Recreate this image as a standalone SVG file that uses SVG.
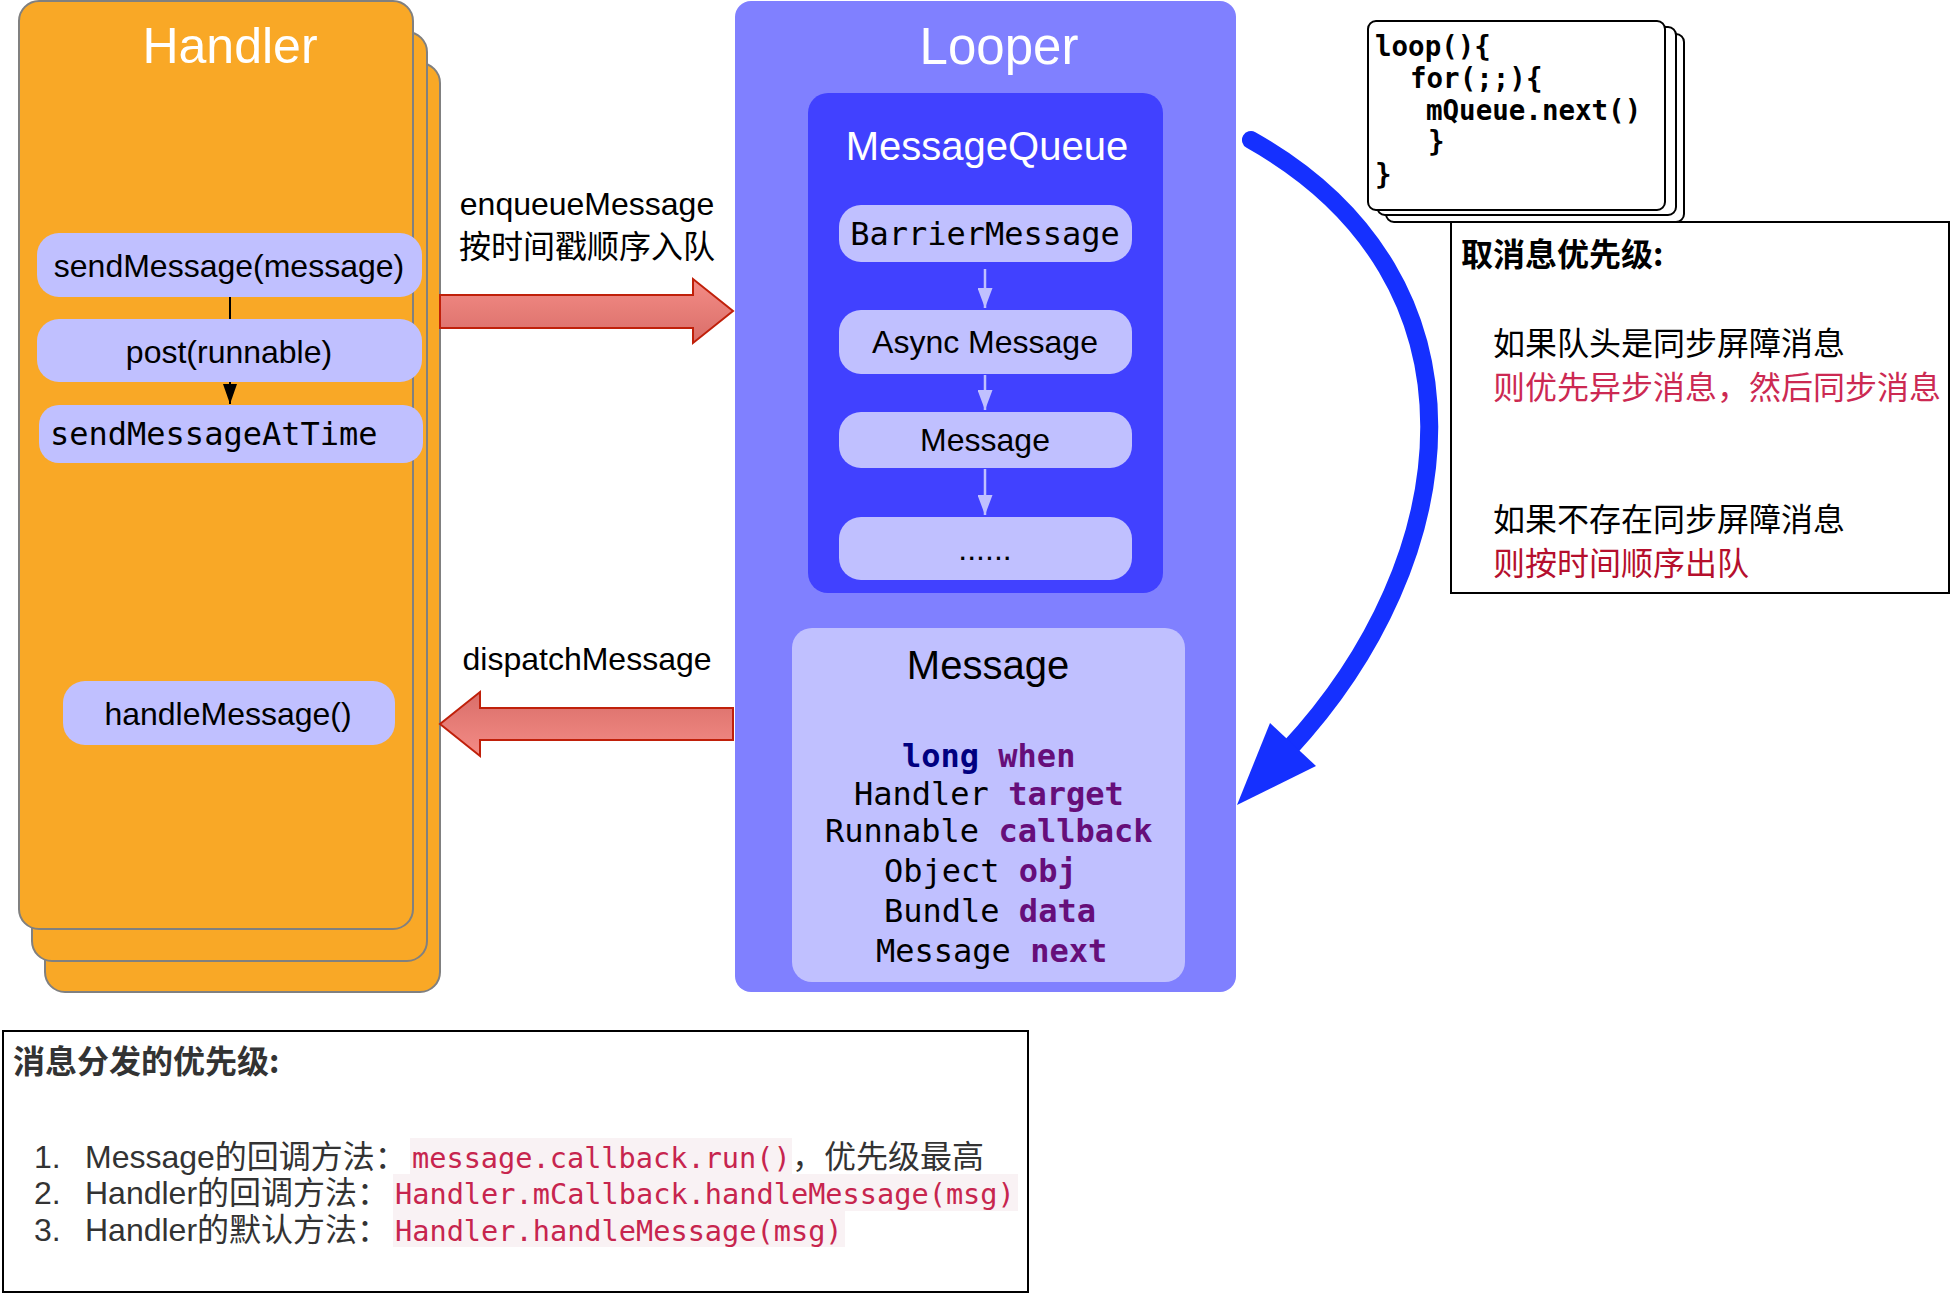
<svg xmlns="http://www.w3.org/2000/svg" width="1952" height="1294" viewBox="0 0 1952 1294">
<style>
.sans{font-family:"Liberation Sans","Noto Sans CJK SC",sans-serif;}
.cjk{font-family:"Noto Sans CJK SC","Liberation Sans",sans-serif;}
.mono{font-family:"DejaVu Sans Mono","Liberation Mono",monospace;}
.card{fill:#F9A826;stroke:#808080;stroke-width:2;}
.pill{fill:#C0C0FF;}
.lbl{font-size:32px;fill:#000;}
.kw{font-weight:bold;fill:#000080;}
.fld{font-weight:bold;fill:#660E7A;}
.codebg{fill:#F9F2F4;}
.code{fill:#C7254E;font-size:28.6px;}
.lst{font-size:32px;fill:#333;}
.lav{stroke:#C0C0FF;stroke-width:2.5;fill:none;}
.redarrow{stroke:#C0200A;stroke-width:2;}
</style>
<defs>
<linearGradient id="gDown" x1="0" y1="0" x2="0" y2="1">
<stop offset="0" stop-color="#F48C86"/><stop offset="1" stop-color="#D96E69"/>
</linearGradient>
<linearGradient id="gUp" x1="0" y1="0" x2="0" y2="1">
<stop offset="0" stop-color="#D96E69"/><stop offset="1" stop-color="#F48C86"/>
</linearGradient>
<marker id="mLav" viewBox="0 0 20 15" refX="20" refY="7.5" markerWidth="20" markerHeight="15" markerUnits="userSpaceOnUse" orient="auto">
<path d="M0,0 L20,7.5 L0,15 z" fill="#C0C0FF"/>
</marker>
<marker id="mBlack" viewBox="0 0 20 14" refX="20" refY="7" markerWidth="20" markerHeight="14" markerUnits="userSpaceOnUse" orient="auto">
<path d="M0,0 L20,7 L0,14 z" fill="#000"/>
</marker>
</defs>

<g id="handler">
<rect class="card" x="45" y="63" width="395" height="929" rx="20"/>
<rect class="card" x="32" y="32" width="395" height="929" rx="20"/>
<rect class="card" x="19" y="1" width="394" height="928" rx="20"/>
<text class="sans" x="230" y="63" font-size="50" fill="#FFFFFF" text-anchor="middle">Handler</text>
</g>

<g id="looper">
<rect x="735" y="1" width="501" height="991" rx="16" fill="#8080FF"/>
<text class="sans" x="999" y="64" font-size="51" fill="#FFFFFF" text-anchor="middle">Looper</text>
</g>

<g id="messagequeue">
<rect x="808" y="93" width="355" height="500" rx="20" fill="#4141FF"/>
<text class="sans" x="987" y="160" font-size="40" fill="#FFFFFF" text-anchor="middle">MessageQueue</text>
</g>

<g id="connectors">
<line x1="230" y1="297" x2="230" y2="404" stroke="#000" stroke-width="2" marker-end="url(#mBlack)"/>
<line class="lav" x1="985" y1="269" x2="985" y2="308" marker-end="url(#mLav)"/>
<line class="lav" x1="985" y1="375" x2="985" y2="410" marker-end="url(#mLav)"/>
<line class="lav" x1="985" y1="469" x2="985" y2="515" marker-end="url(#mLav)"/>
<polygon class="redarrow" fill="url(#gDown)" points="440,295 693,295 693,279 733,311 693,343 693,328 440,328"/>
<polygon class="redarrow" fill="url(#gUp)" points="733,708 480,708 480,692 440,724 480,756 480,740 733,740"/>
<path d="M1251,140 C1500,280 1465,560 1288,750" fill="none" stroke="#1530FF" stroke-width="18" stroke-linecap="round"/>
<polygon points="1237,805 1270,723 1316,766" fill="#1530FF"/>
<text class="sans lbl" x="587" y="215" text-anchor="middle">enqueueMessage</text>
<text class="sans lbl" x="587" y="258" text-anchor="middle">按时间戳顺序入队</text>
<text class="sans lbl" x="587" y="670" text-anchor="middle">dispatchMessage</text>
</g>

<g id="sendMessage">
<rect class="pill" x="37" y="233" width="385" height="64" rx="22"/>
<text class="sans lbl" x="229" y="277" text-anchor="middle">sendMessage(message)</text>
</g>
<g id="post">
<rect class="pill" x="37" y="319" width="385" height="63" rx="22"/>
<text class="sans lbl" x="229" y="363" text-anchor="middle">post(runnable)</text>
</g>
<g id="sendMessageAtTime">
<rect class="pill" x="39" y="405" width="384" height="58" rx="20"/>
<text class="mono lbl" x="50" y="445">sendMessageAtTime</text>
</g>
<g id="handleMessage">
<rect class="pill" x="63" y="681" width="332" height="64" rx="22"/>
<text class="sans lbl" x="228" y="725" text-anchor="middle">handleMessage()</text>
</g>

<g id="barrierMessage">
<rect class="pill" x="839" y="205" width="293" height="57" rx="22"/>
<text class="mono lbl" x="985" y="245" text-anchor="middle">BarrierMessage</text>
</g>
<g id="asyncMessage">
<rect class="pill" x="839" y="310" width="293" height="64" rx="22"/>
<text class="sans lbl" x="985" y="353" text-anchor="middle">Async Message</text>
</g>
<g id="queueMessage">
<rect class="pill" x="839" y="412" width="293" height="56" rx="22"/>
<text class="sans lbl" x="985" y="451" text-anchor="middle">Message</text>
</g>
<g id="queueMore">
<rect class="pill" x="839" y="517" width="293" height="63" rx="22"/>
<text class="sans lbl" x="985" y="560" text-anchor="middle">......</text>
</g>

<g id="messageStruct">
<rect class="pill" x="792" y="628" width="393" height="354" rx="20"/>
<text class="sans" x="988" y="679" font-size="40" fill="#000" text-anchor="middle">Message</text>
<g class="mono" font-size="32" fill="#000">
<text x="902" y="767"><tspan class="kw">long</tspan> <tspan class="fld">when</tspan></text>
<text x="854" y="805">Handler <tspan class="fld">target</tspan></text>
<text x="825" y="842">Runnable <tspan class="fld">callback</tspan></text>
<text x="884" y="882">Object <tspan class="fld">obj</tspan></text>
<text x="884" y="922">Bundle <tspan class="fld">data</tspan></text>
<text x="876" y="962">Message <tspan class="fld">next</tspan></text>
</g>
</g>

<g id="loopCode">
<rect x="1386" y="34" width="298" height="188" rx="8" fill="#FFFFFF" stroke="#000" stroke-width="2"/>
<rect x="1377" y="27" width="299" height="188" rx="8" fill="#FFFFFF" stroke="#000" stroke-width="2"/>
<rect x="1368" y="21" width="297" height="189" rx="8" fill="#FFFFFF" stroke="#000" stroke-width="2"/>
<g class="mono" font-size="27.5" font-weight="bold" fill="#000">
<text x="1375" y="56">loop(){</text>
<text x="1410" y="88">for(;;){</text>
<text x="1426" y="120">mQueue.next()</text>
<text x="1428" y="151">}</text>
<text x="1375" y="184">}</text>
</g>
</g>

<g id="fetchPriority">
<rect x="1451" y="222" width="498" height="371" fill="#FFFFFF" stroke="#000" stroke-width="2"/>
<text class="cjk" x="1461" y="266" font-size="32" font-weight="bold" fill="#000">取消息优先级:</text>
<g class="cjk" font-size="32">
<text x="1493" y="355" fill="#000">如果队头是同步屏障消息</text>
<text x="1493" y="399" fill="#CC2952">则优先异步消息，然后同步消息</text>
<text x="1493" y="531" fill="#000">如果不存在同步屏障消息</text>
<text x="1493" y="575" fill="#B50F2D">则按时间顺序出队</text>
</g>
</g>

<g id="dispatchPriority">
<rect x="3" y="1031" width="1025" height="261" fill="#FFFFFF" stroke="#000" stroke-width="2"/>
<text class="cjk" x="13" y="1073" font-size="32" font-weight="bold" fill="#333">消息分发的优先级:</text>
<rect class="codebg" x="410" y="1138" width="382" height="37"/>
<rect class="codebg" x="393" y="1174" width="625" height="37"/>
<rect class="codebg" x="393" y="1211" width="452" height="36"/>
<text class="sans lst" x="34" y="1168">1.</text>
<text class="sans lst" x="85" y="1168">Message的回调方法：</text>
<text class="mono code" x="412" y="1168">message.callback.run()</text>
<text class="sans lst" x="792" y="1168">，优先级最高</text>
<text class="sans lst" x="34" y="1204">2.</text>
<text class="sans lst" x="85" y="1204">Handler的回调方法：</text>
<text class="mono code" x="395" y="1204">Handler.mCallback.handleMessage(msg)</text>
<text class="sans lst" x="34" y="1241">3.</text>
<text class="sans lst" x="85" y="1241">Handler的默认方法：</text>
<text class="mono code" x="395" y="1241">Handler.handleMessage(msg)</text>
</g>
</svg>
